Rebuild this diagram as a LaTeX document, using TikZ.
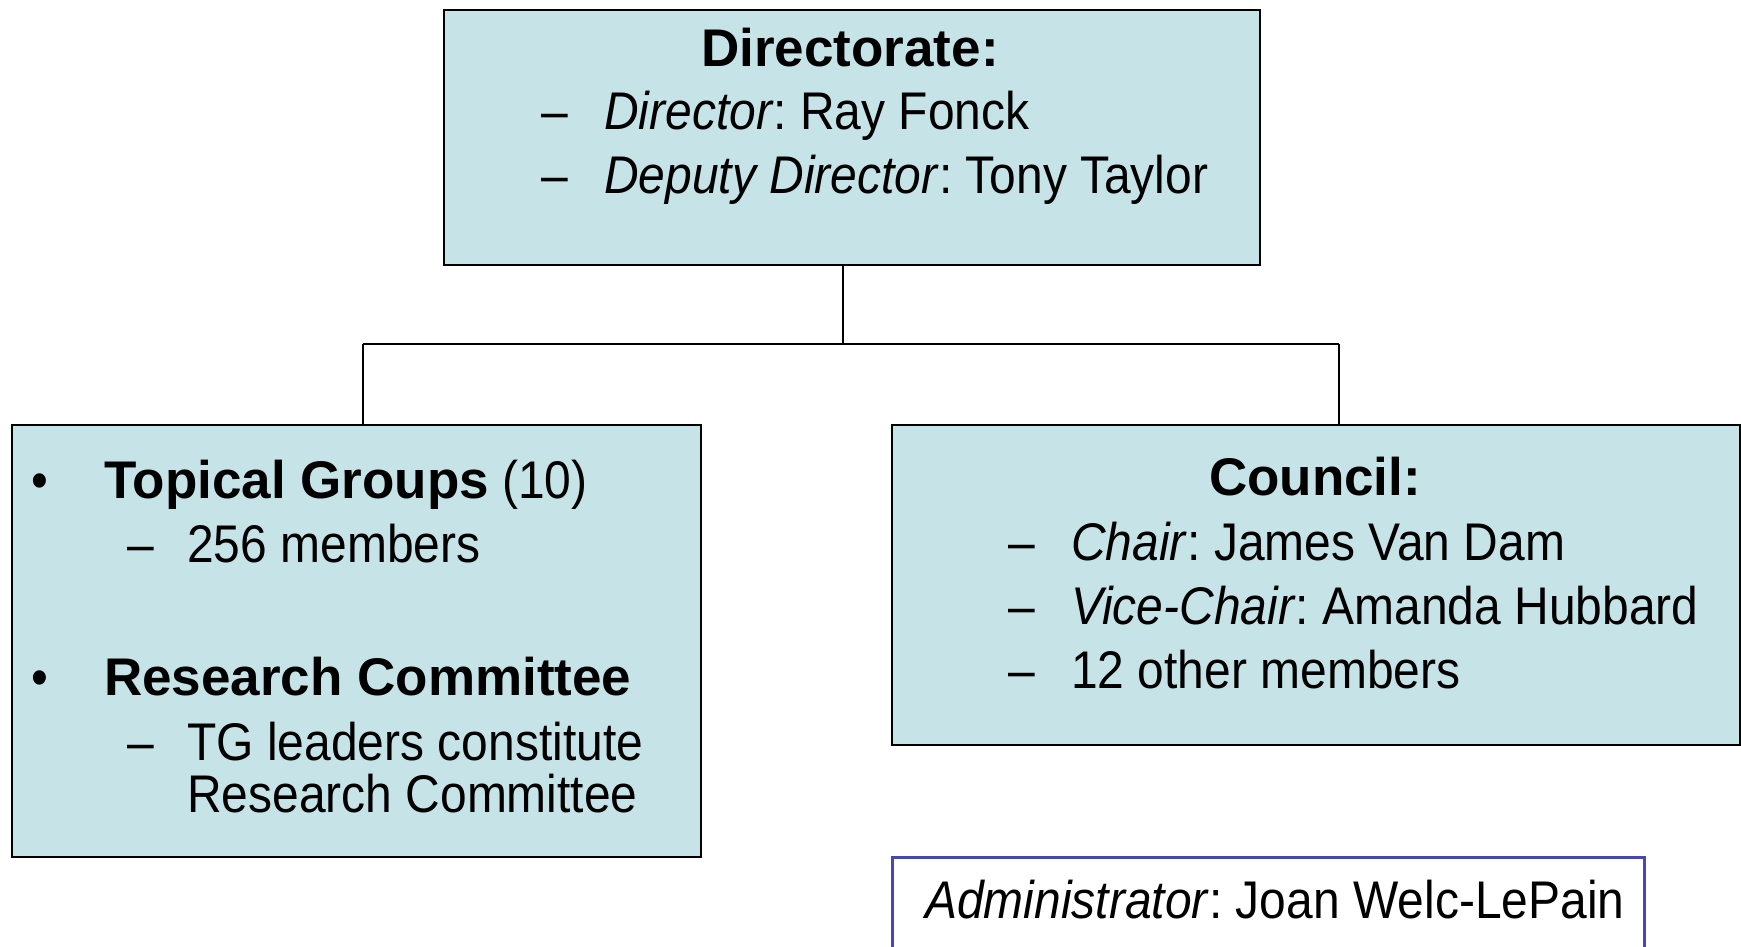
\documentclass[tikz,border=0pt]{standalone}
\usepackage{fontspec}
\setmainfont{Liberation Sans}[
  UprightFeatures={FakeStretch=0.905},
  ItalicFeatures={FakeStretch=0.905}]
\definecolor{boxfill}{RGB}{198,228,231}
\definecolor{adminline}{RGB}{72,72,180}
\frenchspacing
\begin{document}
\begin{tikzpicture}[x=1pt,y=-1pt,
  orgbox/.style={draw=black, line width=2pt, fill=boxfill, rectangle, inner sep=0pt, anchor=north west},
  adminbox/.style={draw=adminline, line width=2.5pt, fill=white, rectangle, inner sep=0pt, anchor=north west},
  txt/.style={anchor=base west, inner sep=0pt, font=\fontsize{53}{64}\selectfont},
  ctxt/.style={txt, anchor=base},
  link/.style={draw=black, line width=2pt}]
\clip (0,0) rectangle (1741,946);
\fill[white] (0,0) rectangle (1741,946);

% boxes
\node[orgbox, minimum width=816pt, minimum height=255pt] (dir) at (443,9) {};
\node[orgbox, minimum width=689pt, minimum height=432pt] (tg) at (11,424) {};
\node[orgbox, minimum width=848pt, minimum height=320pt] (cou) at (891,424) {};
\node[adminbox, minimum width=752pt, minimum height=140pt] (adm) at (891,856) {};

% connectors
\coordinate (hub) at (843,344);
\coordinate (jl) at (363,344);
\coordinate (jr) at (1339,344);
\draw[link] (hub |- dir.south) -- (hub);
\draw[link] (jl) -- (jr);
\draw[link] (jl) -- (jl |- tg.north);
\draw[link] (jr) -- (jr |- cou.north);

% directorate
\node[ctxt] (dirt) at (850,66) {\textbf{Directorate:}};
\node[txt] (dd1) at (541,129) {–};
\node[txt] (dl1) at (604,129) {\textit{Director}: Ray Fonck};
\node[txt] (dd2) at (541,193) {–};
\node[txt] (dl2) at (604,193) {\textit{Deputy Director}: Tony Taylor};

% topical groups / research committee
\node[txt] (b1) at (31,498) {•};
\node[txt] (tgt) at (104,498) {\textbf{Topical Groups} (10)};
\node[txt] (td1) at (127,562) {–};
\node[txt] (tl1) at (187,562) {256 members};
\node[txt] (b2) at (31,695) {•};
\node[txt] (rct) at (104,695) {\textbf{Research Committee}};
\node[txt] (td2) at (127,760) {–};
\node[txt] (tl2) at (187,760) {TG leaders constitute};
\node[txt] (tl3) at (187,812) {Research Committee};

% council
\node[ctxt] (cout) at (1315,495) {\textbf{Council:}};
\node[txt] (cd1) at (1008,560) {–};
\node[txt] (cl1) at (1071,560) {\textit{Chair}: James Van Dam};
\node[txt] (cd2) at (1008,624) {–};
\node[txt] (cl2) at (1071,624) {\textit{Vice-Chair}: Amanda Hubbard};
\node[txt] (cd3) at (1008,688) {–};
\node[txt] (cl3) at (1071,688) {12 other members};

% administrator
\node[txt] (admt) at (925,918) {\textit{Administrator}: Joan Welc-LePain};
\end{tikzpicture}
\end{document}
